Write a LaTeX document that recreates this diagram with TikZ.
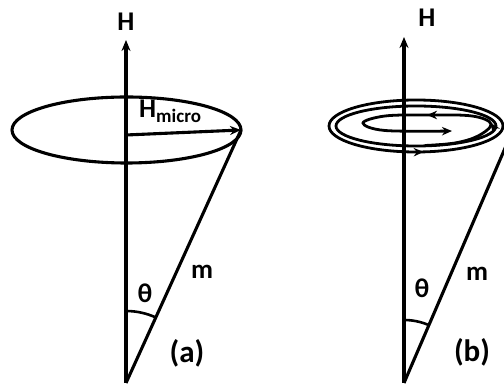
\documentclass[tikz,border=0pt]{standalone}
\usepackage{fontspec}
\setmainfont{Carlito}
\usetikzlibrary{arrows.meta,decorations.markings}
\begin{document}
\begin{tikzpicture}[x=1pt,y=1pt,
  ln/.style={line width=3.1pt},
  sl/.style={line width=2.8pt},
  tipbig/.style={-{Stealth[length=11pt,width=9pt]}},
  stip/.style={-{Stealth[length=10pt,width=8.5pt]}},
  bold lbl/.style={inner sep=0pt, font=\fontsize{27}{30}\selectfont\bfseries},
  cap lbl/.style={inner sep=0pt, font=\fontsize{31}{34}\selectfont\bfseries},
]
\useasboundingbox (0,0) rectangle (504,385);
% ---------- (a) ----------
\coordinate (A0) at (126,2);
\coordinate (Atop) at (126,345);
\coordinate (Ac) at (126.5,255);
\coordinate (Ar) at (241,255);
\coordinate (Ah) at (126,250);
\coordinate (Aarc) at (126,74);
\draw[ln] (Ac) ellipse[x radius=114.5,y radius=33];
\draw[ln,tipbig] (A0) -- (Atop);
\draw[ln,tipbig] (Ah) -- (Ar);
\draw[ln] (A0) -- (Ar);
\draw[line width=2.6pt] (Aarc) arc[start angle=90,end angle=65.7,radius=72];
\node[bold lbl] (HA) at (126,363) {H};
\node[bold lbl,anchor=base west] (HmA) at (139,267) {H\raisebox{-5pt}{\fontsize{19}{20}\selectfont micro}};
\node[bold lbl] (mA) at (202,113) {m};
\node[bold lbl] (thA) at (145,92) {θ};
\node[cap lbl] (la) at (187,32) {(a)};
% ---------- (b) ----------
\coordinate (B0) at (404,2);
\coordinate (Btop) at (404,348);
\coordinate (Bm) at (515,260);
\coordinate (Barc) at (404,65);
\coordinate (Bc) at (416,259);
\draw[ln,tipbig] (B0) -- (Btop);
\draw[ln] (B0) -- (Bm);
\draw[line width=2.6pt] (Barc) arc[start angle=90,end angle=66.7,radius=63];
\draw[sl,postaction={decorate},decoration={markings,
  mark=at position 0.77 with {\arrow{Stealth[length=10pt,width=8.5pt]}}}]
  (Bc) ellipse[x radius=87,y radius=26];
\draw[sl] (Bc) ellipse[x radius=80,y radius=20];
\draw[sl,stip,postaction={decorate},decoration={markings,
  mark=at position 0.25 with {\arrow{Stealth[length=10pt,width=8.5pt]}},
  mark=at position 0.47 with {\arrow{Stealth[length=10pt,width=8.5pt]}}}]
  plot[smooth,tension=0.6] coordinates {(425,239.5) (455,242) (478,249) (491,261) (472,269) (427,270) (385,269) (363,262) (385,254.5) (452,254)};
\node[bold lbl] (HB) at (427,367) {H};
\node[bold lbl] (mB) at (477,111) {m};
\node[bold lbl] (thB) at (422,97) {θ};
\node[cap lbl] (lb) at (472,33) {(b)};
\end{tikzpicture}
\end{document}
